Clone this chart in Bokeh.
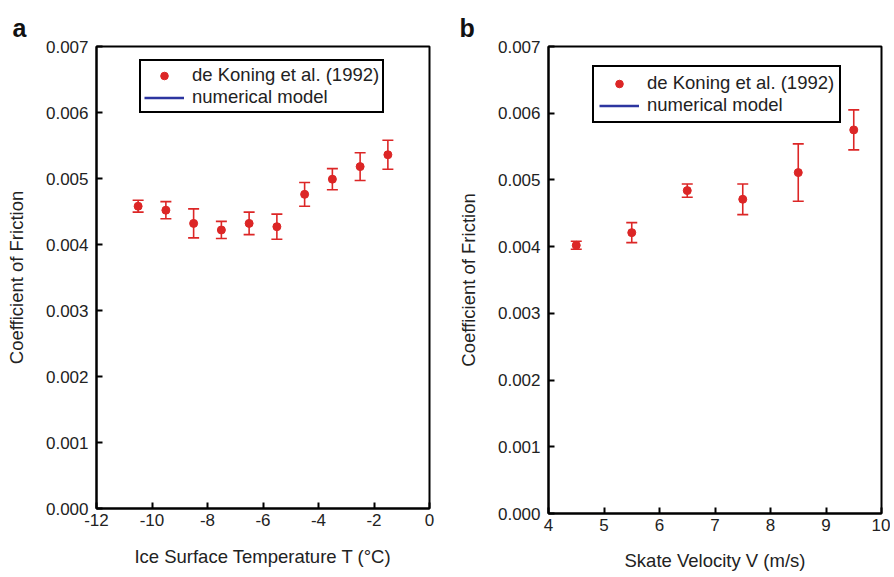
from bokeh.plotting import figure
from bokeh.models import (ColumnDataSource, Whisker, TeeHead, Range1d, FixedTicker,
                          NumeralTickFormatter, PrintfTickFormatter, Legend, LegendItem, Title)
from bokeh.layouts import row
from bokeh.embed import file_html
from bokeh.resources import INLINE

# ---- data ----
temp_T = [-10.5, -9.5, -8.5, -7.5, -6.5, -5.5, -4.5, -3.5, -2.5, -1.5]
temp_mu = [0.00458, 0.00452, 0.00432, 0.00422, 0.00432, 0.00427, 0.00476, 0.00499, 0.00518, 0.00536]
temp_err = [0.00009, 0.00013, 0.00022, 0.00013, 0.00017, 0.00019, 0.00018, 0.00016, 0.00021, 0.00022]

vel_V = [4.5, 5.5, 6.5, 7.5, 8.5, 9.5]
vel_mu = [0.00402, 0.00421, 0.00484, 0.00471, 0.00511, 0.00575]
vel_err = [0.00006, 0.00015, 0.00010, 0.00023, 0.00043, 0.00030]

# numerical model curve: not visible in the picture (legend entry only)
model_x = [float("nan")]
model_y = [float("nan")]

y_ticks = [0.0, 0.001, 0.002, 0.003, 0.004, 0.005, 0.006, 0.007]
temp_ticks = [-12, -10, -8, -6, -4, -2, 0]
vel_ticks = [4, 5, 6, 7, 8, 9, 10]

RED = "#dc2626"
BLUE = "#2c35a0"
FONT = "Liberation Sans"


def make_panel(xs, ys, errs, xr, xticks, xlabel, letter, width, height,
               bl, br, bt, bb, leg_loc, letter_off, leg_pad, x_standoff):
    p = figure(width=width, height=height, output_backend="svg", toolbar_location=None,
               x_range=Range1d(*xr), y_range=Range1d(0, 0.007),
               min_border_left=bl, min_border_right=br, min_border_top=bt, min_border_bottom=bb)
    p.grid.visible = False
    p.outline_line_color = "black"
    p.outline_line_width = 2
    p.outline_line_alpha = 1
    p.background_fill_color = "white"
    p.border_fill_color = "white"

    src = ColumnDataSource(dict(x=xs, y=ys,
                                lo=[a - b for a, b in zip(ys, errs)],
                                hi=[a + b for a, b in zip(ys, errs)]))
    w = Whisker(base="x", upper="hi", lower="lo", source=src, dimension="height",
                line_color=RED, line_width=1.6,
                upper_head=TeeHead(size=11, line_color=RED, line_width=1.6),
                lower_head=TeeHead(size=11, line_color=RED, line_width=1.6))
    p.add_layout(w)
    pts = p.scatter("x", "y", source=src, size=8, fill_color=RED, line_color=RED)
    ln = p.line(x=model_x, y=model_y, line_color=BLUE, line_width=2.5)

    for ax in (p.xaxis[0], p.yaxis[0]):
        ax.axis_line_width = 2
        ax.axis_line_color = "black"
        ax.major_tick_in = 6
        ax.major_tick_out = 0
        ax.major_tick_line_width = 2
        ax.minor_tick_line_color = None
        ax.major_label_text_font = FONT
        ax.major_label_text_font_size = "17px"
        ax.major_label_text_color = "#222222"
        ax.axis_label_text_font = FONT
        ax.axis_label_text_font_size = "18.5px"
        ax.axis_label_text_font_style = "normal"
        ax.axis_label_text_color = "#222222"

    p.xaxis.ticker = FixedTicker(ticks=xticks)
    p.xaxis.formatter = PrintfTickFormatter(format="%d")
    p.xaxis.major_label_standoff = 5
    p.xaxis.axis_label_standoff = x_standoff
    p.xaxis.axis_label = xlabel
    p.yaxis.ticker = FixedTicker(ticks=y_ticks)
    p.yaxis.formatter = NumeralTickFormatter(format="0.000")
    p.yaxis.major_label_standoff = 8
    p.yaxis.axis_label_standoff = 16
    p.yaxis.axis_label = "Coefficient of Friction"

    leg = Legend(items=[LegendItem(label="de Koning et al. (1992)", renderers=[pts]),
                        LegendItem(label="numerical model", renderers=[ln])],
                 location=leg_loc)
    leg.border_line_color = "black"
    leg.border_line_width = 2
    leg.border_line_alpha = 1
    leg.label_text_font = FONT
    leg.label_text_font_size = "18.5px"
    leg.label_text_line_height = 1.0
    leg.label_text_color = "#222222"
    leg.padding = leg_pad
    leg.margin = 0
    leg.spacing = 0
    leg.glyph_width = 40
    leg.glyph_height = 19
    leg.label_height = 19
    leg.label_standoff = 8
    leg.background_fill_alpha = 1
    p.add_layout(leg)

    t = Title(text=letter, align="left", offset=letter_off, text_font=FONT,
              text_font_size="25px", text_font_style="bold", text_color="#111111")
    p.add_layout(t, "above")
    return p


p1 = make_panel(temp_T, temp_mu, temp_err, (-12, 0), temp_ticks,
                "Ice Surface Temperature T (\u00b0C)", "a", 454, 572,
                96, 25, 44, 64, (43, 395), -84, 3, 17)
p2 = make_panel(vel_V, vel_mu, vel_err, (4, 10), vel_ticks,
                "Skate Velocity V (m/s)", "b", 436, 577,
                91, 9, 46, 62, (44, 390), -89, 5, 16)

layout = row(p1, p2)
open("out.html", "w").write(file_html(layout, INLINE))
